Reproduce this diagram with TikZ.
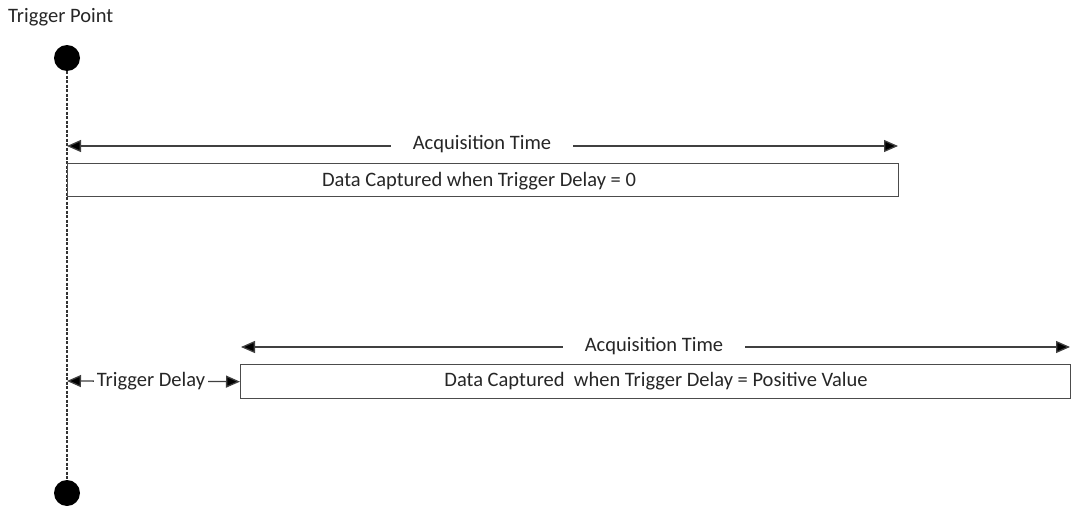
\documentclass[tikz,border=0pt]{standalone}
\usepackage{fontspec}
\setmainfont{Carlito}
\usetikzlibrary{arrows.meta}
\begin{document}
\begin{tikzpicture}[x=1pt,y=-1pt,
  lbl/.style={font=\fontsize{20.5}{24}\selectfont, text=black!85, inner sep=0pt},
  gaplbl/.style={lbl, fill=white, inner xsep=22pt, inner ysep=2pt},
  dim/.style={line width=1.3pt, black!75, {Triangle[length=14pt,width=12pt,fill=black]}-{Triangle[length=14pt,width=12pt,fill=black]}},
  boxs/.style={draw=black!70, line width=1.3pt, inner sep=0pt},
  dot/.style={circle, fill=black, minimum size=26pt, inner sep=0pt}]
\useasboundingbox (0,0) rectangle (1072,506);
\node[lbl, anchor=west] (tp) at (8,17) {Trigger Point};
\node[dot] (d1) at (67,58) {};
\node[dot] (d2) at (67,493) {};
\draw[line width=1.4pt, dash pattern=on 3pt off 1.5pt, black!80] (d1.south) -- (d2.north);
% box 1
\node[boxs, minimum width=831pt, minimum height=33pt, anchor=north west] (b1) at (67,163) {};
\node[lbl] (t1) at (479,181) {Data Captured when Trigger Delay = 0};
\coordinate (a1l) at (67,146);
\coordinate (a1r) at (898,146);
\draw[dim] (a1l) -- (a1r);
\node[gaplbl] (at1) at (482,144) {Acquisition Time};
% box 2
\node[boxs, minimum width=830pt, minimum height=34pt, anchor=north west] (b2) at (240,364) {};
\node[lbl] (t2) at (656,381) {Data Captured\ \ when Trigger Delay = Positive Value};
\coordinate (a2l) at (241,347);
\coordinate (a2r) at (1070,347);
\draw[dim] (a2l) -- (a2r);
\node[gaplbl] (at2) at (654,346) {Acquisition Time};
% trigger delay
\coordinate (tdl) at (67,381);
\draw[dim] (tdl) -- (b2.west);
\node[lbl, fill=white, inner xsep=3pt, inner ysep=2pt] (td) at (151,381) {Trigger Delay};
\end{tikzpicture}
\end{document}
